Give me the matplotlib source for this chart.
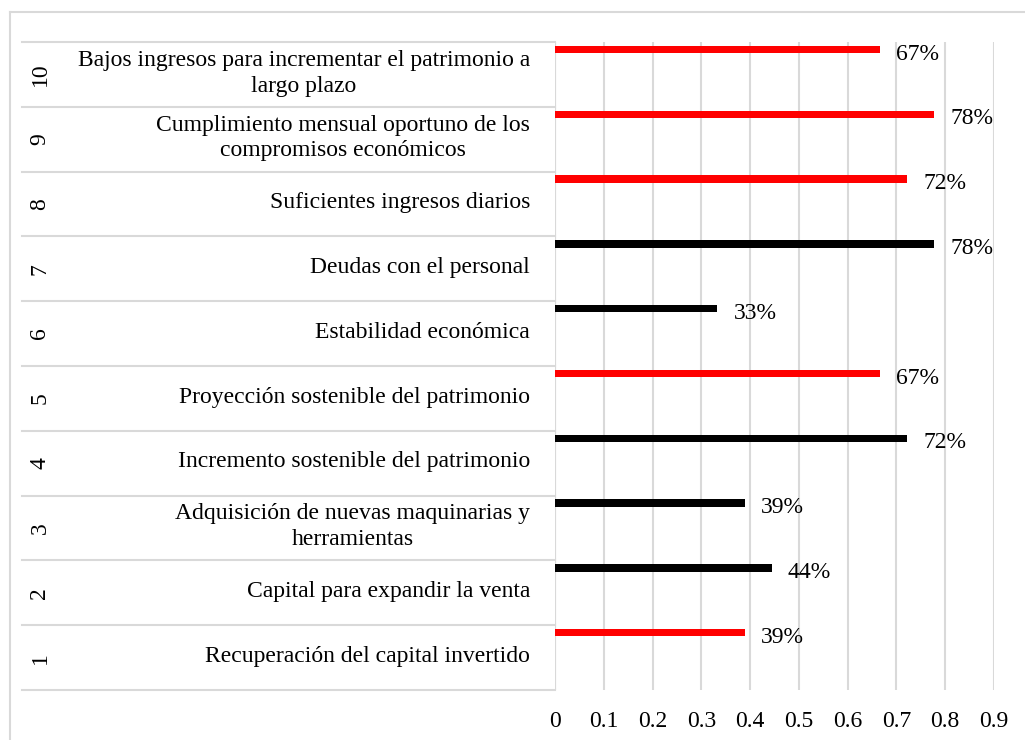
import matplotlib
matplotlib.use("Agg")
import matplotlib.pyplot as plt
from matplotlib.transforms import blended_transform_factory
from matplotlib.lines import Line2D

plt.rcParams['font.family'] = ['Liberation Serif', 'DejaVu Serif']

numbers = ["1", "2", "3", "4", "5", "6", "7", "8", "9", "10"]
labels = [
    "Recuperación del capital invertido",
    "Capital para expandir la venta",
    "Adquisición de nuevas maquinarias y\nherramientas",
    "Incremento sostenible del patrimonio",
    "Proyección sostenible del patrimonio",
    "Estabilidad económica",
    "Deudas con el personal",
    "Suficientes ingresos diarios",
    "Cumplimiento mensual oportuno de los\ncompromisos económicos",
    "Bajos ingresos para incrementar el patrimonio a\nlargo plazo",
]
values = [0.389, 0.444, 0.389, 0.722, 0.667, 0.333, 0.778, 0.722, 0.778, 0.667]
value_labels = ["39%", "44%", "39%", "72%", "67%", "33%", "78%", "72%", "78%", "67%"]
colors = ["#ff0000", "#000000", "#000000", "#000000", "#ff0000",
          "#000000", "#000000", "#ff0000", "#ff0000", "#ff0000"]
xticks = [0, 0.1, 0.2, 0.3, 0.4, 0.5, 0.6, 0.7, 0.8, 0.9]
xtick_labels = ["0", "0.1", "0.2", "0.3", "0.4", "0.5", "0.6", "0.7", "0.8", "0.9"]

W, H = 1025, 740
FS = 17
fig = plt.figure(figsize=(W / 100, H / 100), dpi=100)

x0, x1 = 555, 994
ytop, ybot = 42, 690
ax = fig.add_axes([x0 / W, (H - ybot) / H, (x1 - x0) / W, (ybot - ytop) / H])

n = len(values)
band_px = (ybot - ytop) / n
bar_h = 7.5 / band_px
offset = 7.5 / band_px
ypos = [i + 1 - offset for i in range(n)]

ax.barh(ypos, values, height=bar_h, color=colors, zorder=3)
for y, v, t in zip(ypos, values, value_labels):
    ax.text(v + 0.033, y - 0.07, t, ha='left', va='center', fontsize=FS, color='#000000')

ax.set_xlim(0, 0.9)
ax.set_ylim(0, n)
ax.set_xticks(xticks)
ax.set_xticklabels(xtick_labels, fontsize=FS)
ax.set_yticks([])
ax.tick_params(axis='x', length=0, pad=15)
for s in ax.spines.values():
    s.set_visible(False)
ax.xaxis.grid(True, color='#d9d9d9', linewidth=1.5, zorder=0)
ax.set_axisbelow(True)
ax.axvline(0, color='#d9d9d9', linewidth=1.5, zorder=1)

# category table
trans = blended_transform_factory(ax.transAxes, ax.transData)
left_frac = (22 - x0) / (x1 - x0)
num_frac = (40 - x0) / (x1 - x0)
lab_frac = (530 - x0) / (x1 - x0)
for b in range(n + 1):
    ax.add_line(Line2D([left_frac, 0], [b, b], transform=trans, color='#d9d9d9',
                       linewidth=1.5, clip_on=False))
for i in range(n):
    ax.text(num_frac, i + 0.5, numbers[i], transform=trans, rotation=90,
            ha='center', va='center', fontsize=FS)
    ax.text(lab_frac, i + 0.52, labels[i], transform=trans, ha='right',
            va='center', multialignment='center', fontsize=FS, linespacing=1.3)

# outer chart border
fig.add_artist(Line2D([10 / W, 10 / W], [0, 1 - 12 / H], transform=fig.transFigure,
                      color='#d9d9d9', linewidth=1.5))
fig.add_artist(Line2D([10 / W, 1], [1 - 12 / H, 1 - 12 / H], transform=fig.transFigure,
                      color='#d9d9d9', linewidth=1.5))

fig.savefig("out.png", dpi=100, facecolor='white')
